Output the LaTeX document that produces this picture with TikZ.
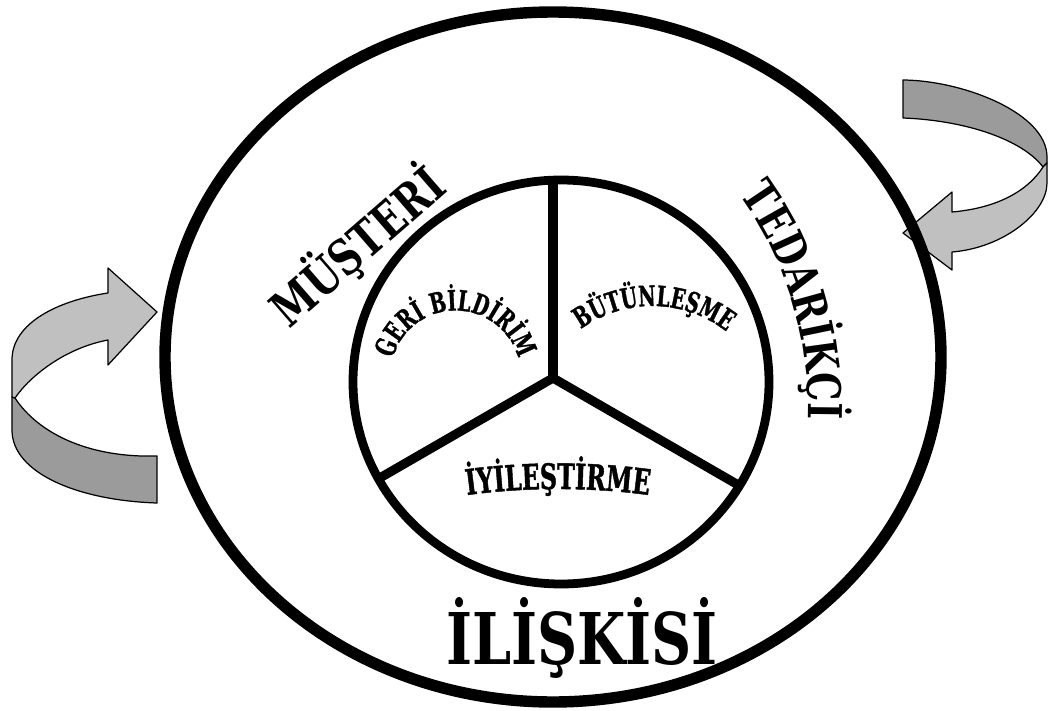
\documentclass[tikz,border=0pt]{standalone}
\usepackage{fontspec}
\usepackage{tikz}
\usetikzlibrary{decorations.text}
\newfontfamily\slabfont[FakeStretch=0.78]{DejaVu Serif}
\newfontfamily\slabnarrow[FakeStretch=0.67, FakeBold=1.2]{DejaVu Serif}
\definecolor{ribbonLight}{RGB}{192,192,192}
\definecolor{ribbonDark}{RGB}{155,155,155}

\begin{document}
\begin{tikzpicture}[
    ribbon/.style={draw=black, line width=0.7pt, line join=round},
    ring/.style={draw=black, line width=#1},
    spoke/.style={line width=5.2pt},
    bigword/.style={font=\slabfont\bfseries\fontsize{#1}{#1}\selectfont, inner sep=0pt},
    arctext/.style={decorate, decoration={text along path, text align=center, text={#1}}}
  ]
  \useasboundingbox (-11.06,-6.64) rectangle (9.90,7.56);

  \filldraw[fill=ribbonDark, ribbon] (-10.76,-0.4) -- (-10.82,-0.38) -- (-10.82,-1.04)
    .. controls (-10.82,-1.9) and (-9.5,-2.45) .. (-7.92,-2.5) -- (-7.92,-1.56)
    .. controls (-9.3,-1.6) and (-10.3,-1.1) .. (-10.76,-0.4) -- cycle;
  \filldraw[fill=ribbonLight, ribbon] (-7.92,1.32) -- (-8.9,2.2) -- (-8.9,1.7)
    .. controls (-9.9,1.55) and (-10.82,1.1) .. (-10.82,0.36) -- (-10.82,-0.38) -- (-10.76,-0.4)
    .. controls (-10.45,0.05) and (-9.75,0.6) .. (-8.9,0.76) -- (-8.9,0.26) -- cycle;

  \filldraw[fill=ribbonDark, ribbon] (7.0,5.96) .. controls (8.2,5.95) and (9.88,5.3) .. (9.88,4.42)
    -- (9.88,4.3) -- (9.8,4.22) .. controls (9.4,4.75) and (8.3,5.15) .. (7.0,5.2) -- cycle;
  \filldraw[fill=ribbonLight, ribbon] (9.8,4.22) -- (9.88,4.3) -- (9.88,3.9)
    .. controls (9.88,3.3) and (9.0,2.6) .. (7.98,2.52) -- (7.98,2.16) -- (7.0,2.9) -- (7.98,3.72) -- (7.98,3.32)
    .. controls (8.9,3.4) and (9.5,3.75) .. (9.8,4.22) -- cycle;

  \draw[ring=6.5pt] (0,0.42) ellipse [x radius=7.76, y radius=6.9];
  \draw[ring=5pt] (0.16,-0.08) ellipse [x radius=4.16, y radius=4.04];

  \coordinate (hub) at (0,0);
  \coordinate (topEnd) at (0,3.96);
  \coordinate (leftEnd) at (-3.5,-2.02);
  \coordinate (rightEnd) at (3.74,-2.16);
  \draw[spoke] (hub) -- (topEnd);
  \draw[spoke] (hub) -- (leftEnd);
  \draw[spoke] (hub) -- (rightEnd);

  \coordinate (geriC) at (-1.95,0.05);
  \coordinate (butunC) at (1.98,-0.98);
  \coordinate (iyiC) at (0.1,-16);
  \coordinate (tedC) at (-2.12,-0.58);

  \path[arctext={|\slabnarrow\bfseries\fontsize{16}{16}\selectfont|GERİ BİLDİRİM}] (geriC) ++(168:1.3) arc (168:12:1.3);
  \path[arctext={|\slabnarrow\bfseries\fontsize{16}{16}\selectfont|BÜTÜNLEŞME}] (butunC) ++(135:2.42) arc (135:43:2.42);
  \path[arctext={|\slabnarrow\bfseries\fontsize{20}{20}\selectfont|İYİLEŞTİRME}] (iyiC) ++(100:13.78) arc (100:80:13.78);
  \path[arctext={|\slabfont\bfseries\fontsize{26.5}{26.5}\selectfont|TEDARİKÇİ}] (tedC) ++(52:7.22) arc (52:-18:7.22);

  \node[bigword=28, rotate=41] (musteri) at (-3.92,2.64) {MÜŞTERİ};
  \node[bigword=40.6] (iliskisi) at (0.58,-5.2) {İLİŞKİSİ};
\end{tikzpicture}
\end{document}
